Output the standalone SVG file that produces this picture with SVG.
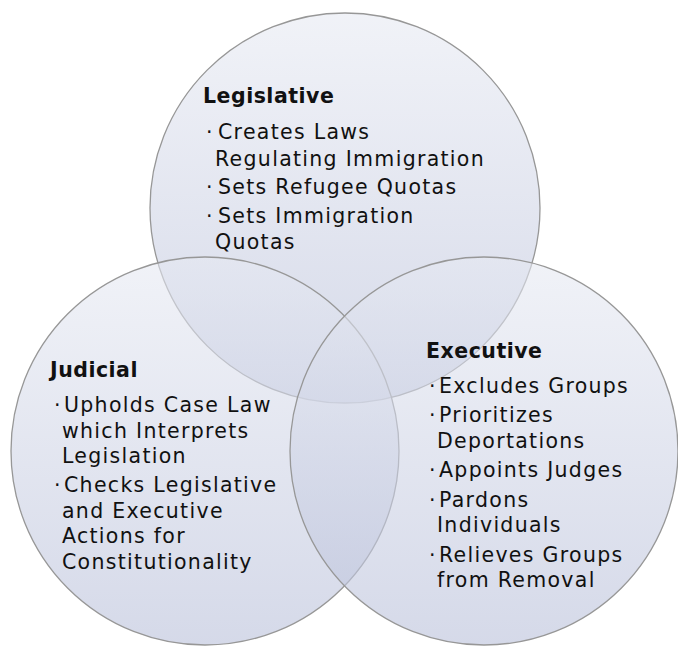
<svg xmlns="http://www.w3.org/2000/svg" width="678" height="648" viewBox="0 0 678 648">
  <defs>
    <!-- soft blue-grey wash shared by the three circles -->
    <linearGradient id="wash" x1="0" y1="0" x2="0" y2="1">
      <stop offset="0" stop-color="#e6e9f2" stop-opacity="0.58"/>
      <stop offset="1" stop-color="#b9c0da" stop-opacity="0.6"/>
    </linearGradient>
  </defs>
  <style>
    .ring { fill: url(#wash); stroke: #979797; stroke-width: 1.3; }
    .title { font-family: "DejaVu Sans", Verdana, sans-serif; font-weight: bold; font-size: 20.5px; letter-spacing: 0.5px; fill: #111; }
    .item { font-family: "DejaVu Sans", Verdana, sans-serif; font-size: 20.5px; letter-spacing: 1.3px; fill: #111; }
  </style>
  <rect width="678" height="648" fill="#ffffff"/>

  <!-- circles -->
  <g id="circles">
    <circle id="legislative-circle" class="ring" cx="345" cy="208" r="195"/>
    <circle id="judicial-circle" class="ring" cx="205" cy="451" r="194"/>
    <circle id="executive-circle" class="ring" cx="484" cy="451" r="194"/>
  </g>

  <!-- Legislative -->
  <g id="legislative">
    <text class="title" x="203" y="103">Legislative</text>
    <text class="item" x="206" y="139">·<tspan x="218">Creates Laws</tspan></text>
    <text class="item" x="215" y="165.5">Regulating Immigration</text>
    <text class="item" x="206" y="193.5">·<tspan x="218">Sets Refugee Quotas</tspan></text>
    <text class="item" x="206" y="222.5">·<tspan x="218">Sets Immigration</tspan></text>
    <text class="item" x="215" y="248.5">Quotas</text>
  </g>

  <!-- Judicial -->
  <g id="judicial">
    <text class="title" x="50" y="377">Judicial</text>
    <text class="item" x="54" y="411.5">·<tspan x="64">Upholds Case Law</tspan></text>
    <text class="item" x="62" y="437.5">which Interprets</text>
    <text class="item" x="62" y="463">Legislation</text>
    <text class="item" x="54" y="492">·<tspan x="64">Checks Legislative</tspan></text>
    <text class="item" x="62" y="517.5">and Executive</text>
    <text class="item" x="62" y="543">Actions for</text>
    <text class="item" x="62" y="568.5">Constitutionality</text>
  </g>

  <!-- Executive -->
  <g id="executive">
    <text class="title" x="426" y="358">Executive</text>
    <text class="item" x="429" y="392.5">·<tspan x="439">Excludes Groups</tspan></text>
    <text class="item" x="429" y="422">·<tspan x="439">Prioritizes</tspan></text>
    <text class="item" x="437" y="447.5">Deportations</text>
    <text class="item" x="429" y="477">·<tspan x="439">Appoints Judges</tspan></text>
    <text class="item" x="429" y="506.5">·<tspan x="439">Pardons</tspan></text>
    <text class="item" x="437" y="532">Individuals</text>
    <text class="item" x="429" y="561.5">·<tspan x="439">Relieves Groups</tspan></text>
    <text class="item" x="437" y="587">from Removal</text>
  </g>

  <!-- no connectors in this diagram -->
  <g id="connectors"/>
</svg>
